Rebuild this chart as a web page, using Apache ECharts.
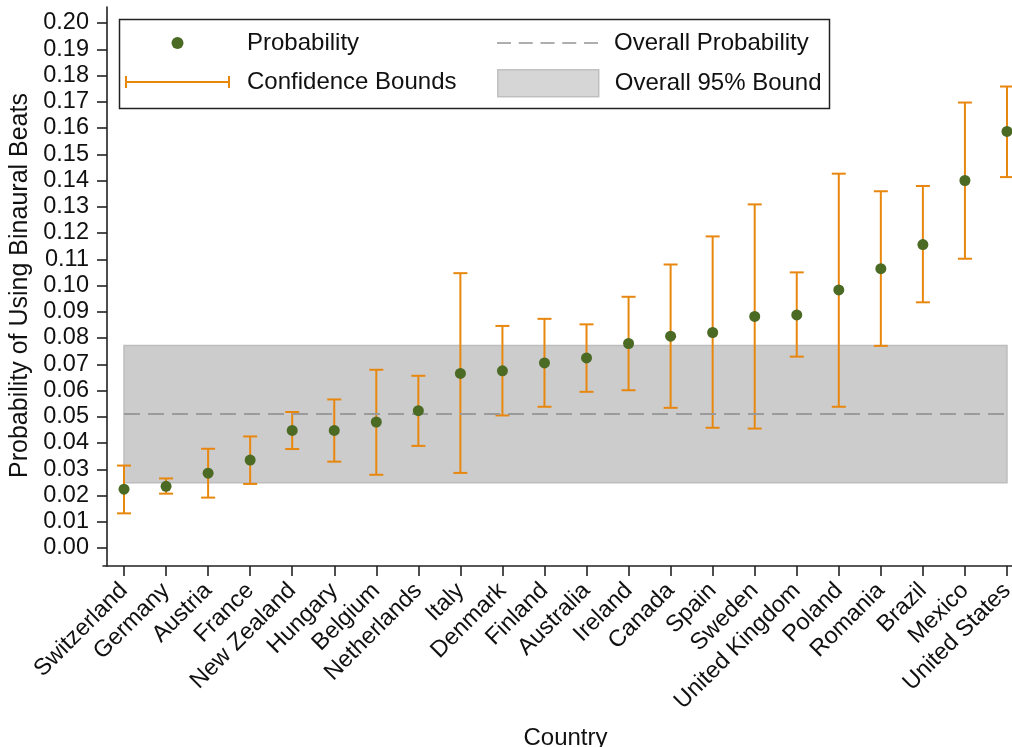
<!DOCTYPE html>
<html>
<head>
<meta charset="utf-8">
<script src="https://cdn.jsdelivr.net/npm/echarts@6/dist/echarts.min.js"></script>
<style>html,body{margin:0;padding:0;background:#fff}#c{width:1012px;height:747px}</style>
</head>
<body>
<div id="c"></div>
<script>
var countries = ['Switzerland','Germany','Austria','France','New Zealand','Hungary','Belgium','Netherlands','Italy','Denmark','Finland','Australia','Ireland','Canada','Spain','Sweden','United Kingdom','Poland','Romania','Brazil','Mexico','United States'];
var probability = [0.0224,0.0235,0.0285,0.0335,0.0448,0.0448,0.0480,0.0523,0.0665,0.0675,0.0705,0.0724,0.0779,0.0807,0.0821,0.0882,0.0888,0.0983,0.1064,0.1156,0.1400,0.1587];
var lowerBound = [0.0132,0.0207,0.0192,0.0244,0.0377,0.0329,0.0279,0.0389,0.0286,0.0505,0.0538,0.0595,0.0601,0.0534,0.0458,0.0455,0.0729,0.0538,0.0770,0.0936,0.1102,0.1413];
var upperBound = [0.0314,0.0265,0.0378,0.0425,0.0518,0.0566,0.0679,0.0656,0.1047,0.0846,0.0873,0.0852,0.0957,0.1080,0.1187,0.1309,0.1050,0.1426,0.1359,0.1379,0.1697,0.1758];
var overallProbability = 0.0511;
var overallBound = [0.0249, 0.0771];
var yTicks = {min: 0, max: 0.20, step: 0.01};

var ORANGE = '#E8870E';
var GREEN = '#4B6A24';
var FONT = 'Liberation Sans, Arial, sans-serif';

var errData = countries.map(function (c, i) { return [i, lowerBound[i], upperBound[i]]; });

var chart = echarts.init(document.getElementById('c'), null, {renderer: 'canvas'});
var legendText = {fontSize: 24, color: '#111', fontFamily: FONT};
function lt(pad) { return Object.assign({}, legendText, {padding: [0, 0, 0, pad]}); }

var option = {
  animation: false,
  textStyle: {fontFamily: FONT},
  grid: [
    {left: 103, width: 925, top: 7, bottom: 181, outerBoundsMode: 'none', containLabel: false},
    {left: 103, width: 925, top: 23, bottom: 199, outerBoundsMode: 'none', containLabel: false}
  ],
  graphic: [{
    type: 'rect', left: 117, top: 17, z: 100, silent: true,
    shape: {width: 710, height: 89},
    style: {fill: 'none', stroke: '#222', lineWidth: 1.5}
  }],
  legend: [
    {data: ['Probability'], left: 125, top: 31, padding: 0, itemWidth: 105, itemHeight: 12,
     icon: 'path://M0,0L0,0M105,12L105,12M46.5,6a6,6,0,1,0,12,0a6,6,0,1,0,-12,0Z',
     textStyle: lt(12), itemStyle: {borderWidth: 0}, selectedMode: false},
    {data: ['Confidence Bounds'], left: 125, top: 70, padding: 0, itemWidth: 105, itemHeight: 12,
     icon: 'path://M0,0h2v12h-2z M0,5h105v2h-105z M103,0h2v12h-2z',
     textStyle: lt(12), itemStyle: {borderWidth: 0}, selectedMode: false},
    {data: ['Overall Probability'], left: 497, top: 31, padding: 0, itemWidth: 101, itemHeight: 2,
     icon: 'path://M0,0h14v2h-14z M21.75,0h14v2h-14z M43.5,0h14v2h-14z M65.25,0h14v2h-14z M87,0h14v2h-14z',
     textStyle: lt(11), itemStyle: {borderWidth: 0}, selectedMode: false},
    {data: ['Overall 95% Bound'], left: 497, top: 69, padding: 0, itemWidth: 101, itemHeight: 27, icon: 'rect',
     textStyle: lt(11), itemStyle: {borderWidth: 1.5, borderColor: '#b5b5b5'}, selectedMode: false}
  ],
  xAxis: [
    {gridIndex: 0, type: 'category', data: countries, boundaryGap: true,
     axisLine: {show: true, lineStyle: {color: '#222', width: 1.6}},
     axisTick: {show: true, alignWithLabel: true, length: 10, lineStyle: {color: '#222', width: 1.6}},
     axisLabel: {rotate: 45, interval: 0, fontSize: 23.5, color: '#111', margin: 21, fontFamily: FONT},
     splitLine: {show: false},
     name: 'Country', nameLocation: 'middle', nameGap: 160,
     nameTextStyle: {fontSize: 24, color: '#111', fontFamily: FONT}},
    {gridIndex: 1, type: 'category', data: countries, boundaryGap: true, show: false}
  ],
  yAxis: [
    {gridIndex: 0, type: 'value', min: 0, max: 1, offset: -4,
     axisLine: {show: true, lineStyle: {color: '#222', width: 1.6}},
     axisTick: {show: false}, axisLabel: {show: false}, splitLine: {show: false}},
    {gridIndex: 1, type: 'value', min: yTicks.min, max: yTicks.max, interval: yTicks.step, offset: -4,
     axisLine: {show: false},
     axisTick: {show: true, length: 10, lineStyle: {color: '#222', width: 1.6}},
     axisLabel: {fontSize: 23.5, color: '#111', margin: 18, fontFamily: FONT,
                 formatter: function (v) { return v.toFixed(2); }},
     splitLine: {show: false},
     name: 'Probability of Using Binaural Beats', nameLocation: 'middle', nameGap: 60, nameRotate: 90,
     nameTextStyle: {fontSize: 25, color: '#111', fontFamily: FONT}}
  ],
  series: [
    {name: 'Overall 95% Bound', type: 'scatter', xAxisIndex: 1, yAxisIndex: 1, data: [],
     itemStyle: {color: '#cccccc', borderColor: '#b5b5b5', borderWidth: 1.5},
     markArea: {silent: true, itemStyle: {color: '#cccccc', borderColor: '#bdbdbd', borderWidth: 1.5},
       label: {show: false},
       data: [[{coord: [countries[0], overallBound[0]]}, {coord: [countries[countries.length - 1], overallBound[1]]}]]}},
    {name: 'Overall Probability', type: 'scatter', xAxisIndex: 1, yAxisIndex: 1, data: [],
     itemStyle: {color: '#9a9a9a'},
     markLine: {silent: true, symbol: ['none', 'none'], label: {show: false},
       lineStyle: {color: '#9a9a9a', width: 2, type: [16, 8]},
       data: [[{coord: [countries[0], overallProbability]}, {coord: [countries[countries.length - 1], overallProbability]}]]}},
    {name: 'Confidence Bounds', type: 'custom', xAxisIndex: 1, yAxisIndex: 1, data: errData, clip: false, z: 3,
     itemStyle: {color: ORANGE},
     encode: {x: 0, y: [1, 2]},
     renderItem: function (params, api) {
       var i = api.value(0);
       var lo = api.coord([i, api.value(1)]);
       var hi = api.coord([i, api.value(2)]);
       var hw = 7;
       var st = {stroke: ORANGE, lineWidth: 2};
       return {type: 'group', children: [
         {type: 'line', shape: {x1: lo[0], y1: lo[1], x2: hi[0], y2: hi[1]}, style: st},
         {type: 'line', shape: {x1: lo[0] - hw, y1: lo[1], x2: lo[0] + hw, y2: lo[1]}, style: st},
         {type: 'line', shape: {x1: hi[0] - hw, y1: hi[1], x2: hi[0] + hw, y2: hi[1]}, style: st}
       ]};
     }},
    {name: 'Probability', type: 'scatter', xAxisIndex: 1, yAxisIndex: 1, data: probability,
     symbol: 'circle', symbolSize: 11, z: 5, itemStyle: {color: GREEN, opacity: 1}}
  ]
};
chart.setOption(option);
</script>
</body>
</html>
